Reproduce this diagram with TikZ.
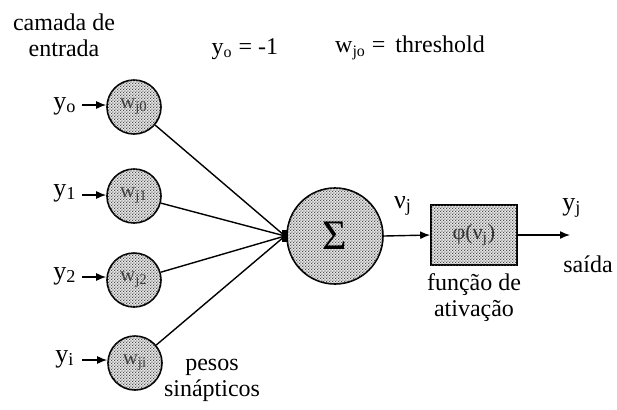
\documentclass[tikz,border=0pt]{standalone}
\usepackage{fontspec}
\setmainfont{Liberation Serif}
\usetikzlibrary{arrows.meta,patterns}
\pgfdeclarepatternformonly{finedots}{\pgfpointorigin}{\pgfpoint{1.6pt}{1.6pt}}{\pgfpoint{1.6pt}{1.6pt}}{%
  \pgfpathcircle{\pgfpoint{0.4pt}{0.4pt}}{0.42pt}\pgfusepath{fill}%
  \pgfpathcircle{\pgfpoint{1.2pt}{1.2pt}}{0.42pt}\pgfusepath{fill}}
\tikzset{
  dotted fill/.style={fill=gray!18,postaction={pattern=finedots,pattern color=black!75}},
  weight/.style={circle,draw,line width=0.8pt,minimum size=27pt,inner sep=0pt,dotted fill,font=\fontsize{10.5}{10.5}\selectfont,text=black!75},
  sumnode/.style={circle,draw,line width=0.8pt,minimum size=48pt,inner sep=0pt,dotted fill,font=\fontsize{21}{21}\selectfont},
  actbox/.style={rectangle,draw,line width=0.8pt,minimum width=43pt,minimum height=30pt,inner sep=0pt,dotted fill,font=\fontsize{11}{11}\selectfont,text=black!80},
  lbl/.style={font=\fontsize{12}{13}\selectfont,align=center,inner sep=0pt},
  inlbl/.style={font=\fontsize{13}{13}\selectfont,inner sep=0pt},
  conn/.style={line width=0.7pt},
  arr/.style={line width=0.7pt,-{Latex[length=5pt,width=4pt]}},
}
\begin{document}
\begin{tikzpicture}[x=0.5pt,y=-0.5pt]
\useasboundingbox (0,0) rectangle (617,409);
% titles
\node[lbl] (camada) at (64,35) {camada de\\entrada};
\node[lbl] (yo) at (245,49) {y\textsubscript{o} = -1};
\node[lbl] (thr) at (410,48) {w\textsubscript{jo} =\ \,threshold};
% input weight circles
\node[weight] (w0) at (134,107) {w\textsubscript{j0}};
\node[weight] (w1) at (134,196) {w\textsubscript{j1}};
\node[weight] (w2) at (134,280) {w\textsubscript{j2}};
\node[weight] (wi) at (135,363) {w\textsubscript{ji}};
% input labels
\node[inlbl] (y0) at (65,106) {y\textsubscript{o}};
\node[inlbl] (y1) at (65,193) {y\textsubscript{1}};
\node[inlbl] (y2) at (65,276) {y\textsubscript{2}};
\node[inlbl] (yi) at (65,359) {y\textsubscript{i}};
\coordinate (a0) at (82,105);
\coordinate (a1) at (82,195);
\coordinate (a2) at (82,277);
\coordinate (ai) at (82,360);
\draw[arr] (a0) -- (a0 -| w0.west);
\draw[arr] (a1) -- (a1 -| w1.west);
\draw[arr] (a2) -- (a2 -| w2.west);
\draw[arr] (ai) -- (ai -| wi.west);
% summation
\node[sumnode] (sum) at (335,236) {Σ};
\node[fill=black,minimum width=3pt,minimum height=6pt,inner sep=0pt] (J) at (285,236) {};
\draw[conn] (w0) -- (J.center);
\draw[conn] (w1) -- (J.center);
\draw[conn] (w2) -- (J.center);
\draw[conn] (wi) -- (J.center);
% activation
\node[actbox] (act) at (474,235) {φ(ν\textsubscript{j})};
\draw[arr] (sum.east) -- (act.west);
\coordinate (out) at (570,235);
\draw[arr] (act.east) -- (out);
\node[inlbl] (vj) at (403,206) {ν\textsubscript{j}};
\node[inlbl] (yj) at (572,208) {y\textsubscript{j}};
\node[lbl] (saida) at (588,264) {saída};
\node[lbl] (funcao) at (474,298) {função de\\ativação};
\node[lbl] (pesos) at (212,380) {pesos\\sinápticos};
\end{tikzpicture}
\end{document}
